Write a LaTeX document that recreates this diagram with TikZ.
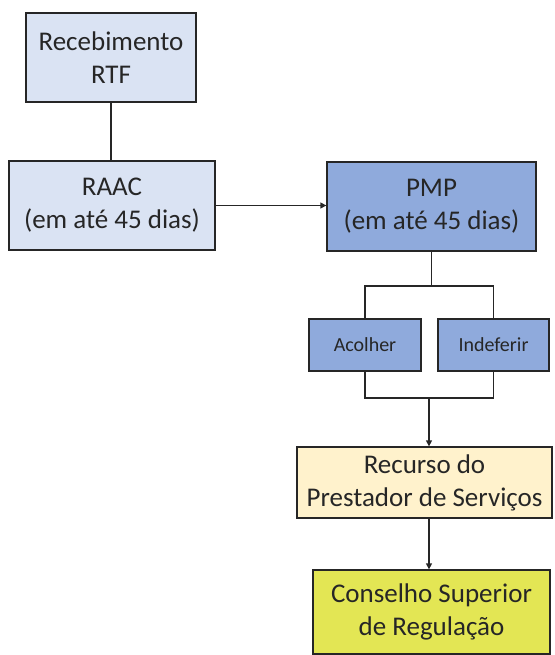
\documentclass[tikz,border=0pt]{standalone}
\usepackage{fontspec}
\setmainfont{Carlito}
\usetikzlibrary{arrows.meta}
\definecolor{lblue}{HTML}{DAE3F3}
\definecolor{mblue}{HTML}{8FAADC}
\definecolor{lcream}{HTML}{FFF2CC}
\definecolor{ygreen}{HTML}{E3E654}
\definecolor{txt}{HTML}{262626}
\tikzset{
  box/.style={draw=black!85, line width=1.3pt, align=center, inner sep=0pt, text=txt,
    font=\fontsize{27}{33}\selectfont},
  smallbox/.style={box, font=\fontsize{20}{24}\selectfont},
  conn/.style={draw=black!85, line width=1.3pt},
  arr/.style={conn, -{Triangle[length=6pt,width=6pt]}}
}
\begin{document}
\begin{tikzpicture}[x=1pt,y=-1pt]
\useasboundingbox (0,0) rectangle (554,655);
\node[box, fill=lblue, minimum width=170pt, minimum height=89pt] (receb) at (111,57.5) {Recebimento\\RTF};
\node[box, fill=lblue, minimum width=206pt, minimum height=89pt] (raac) at (112,205.5) {RAAC\\(em até 45 dias)};
\node[box, fill=mblue, minimum width=209pt, minimum height=89pt] (pmp) at (431.5,206.5) {PMP\\(em até 45 dias)};
\node[smallbox, fill=mblue, minimum width=112pt, minimum height=52pt] (acolher) at (365,345) {Acolher};
\node[smallbox, fill=mblue, minimum width=111pt, minimum height=52pt] (indef) at (493.5,345) {Indeferir};
\node[box, fill=lcream, minimum width=255pt, minimum height=71pt] (recurso) at (424.5,482.5) {Recurso do\\Prestador de Serviços};
\node[box, fill=ygreen, minimum width=237pt, minimum height=84pt] (cons) at (431.5,612) {Conselho Superior\\de Regulação};
\coordinate (top) at (431.5,286);
\coordinate (bot) at (429,398);
\draw[conn] (receb.south) -- (receb.south |- raac.north);
\draw[arr] (raac.east) -- (raac.east -| pmp.west);
\draw[conn] (pmp.south) -- (top);
\draw[conn] (acolher.north) |- (top) -| (indef.north);
\draw[conn] (acolher.south) |- (bot) -| (indef.south);
\draw[arr] (bot) -- (bot |- recurso.north);
\draw[arr] (recurso.south -| bot) -- (cons.north -| bot);
\end{tikzpicture}
\end{document}
